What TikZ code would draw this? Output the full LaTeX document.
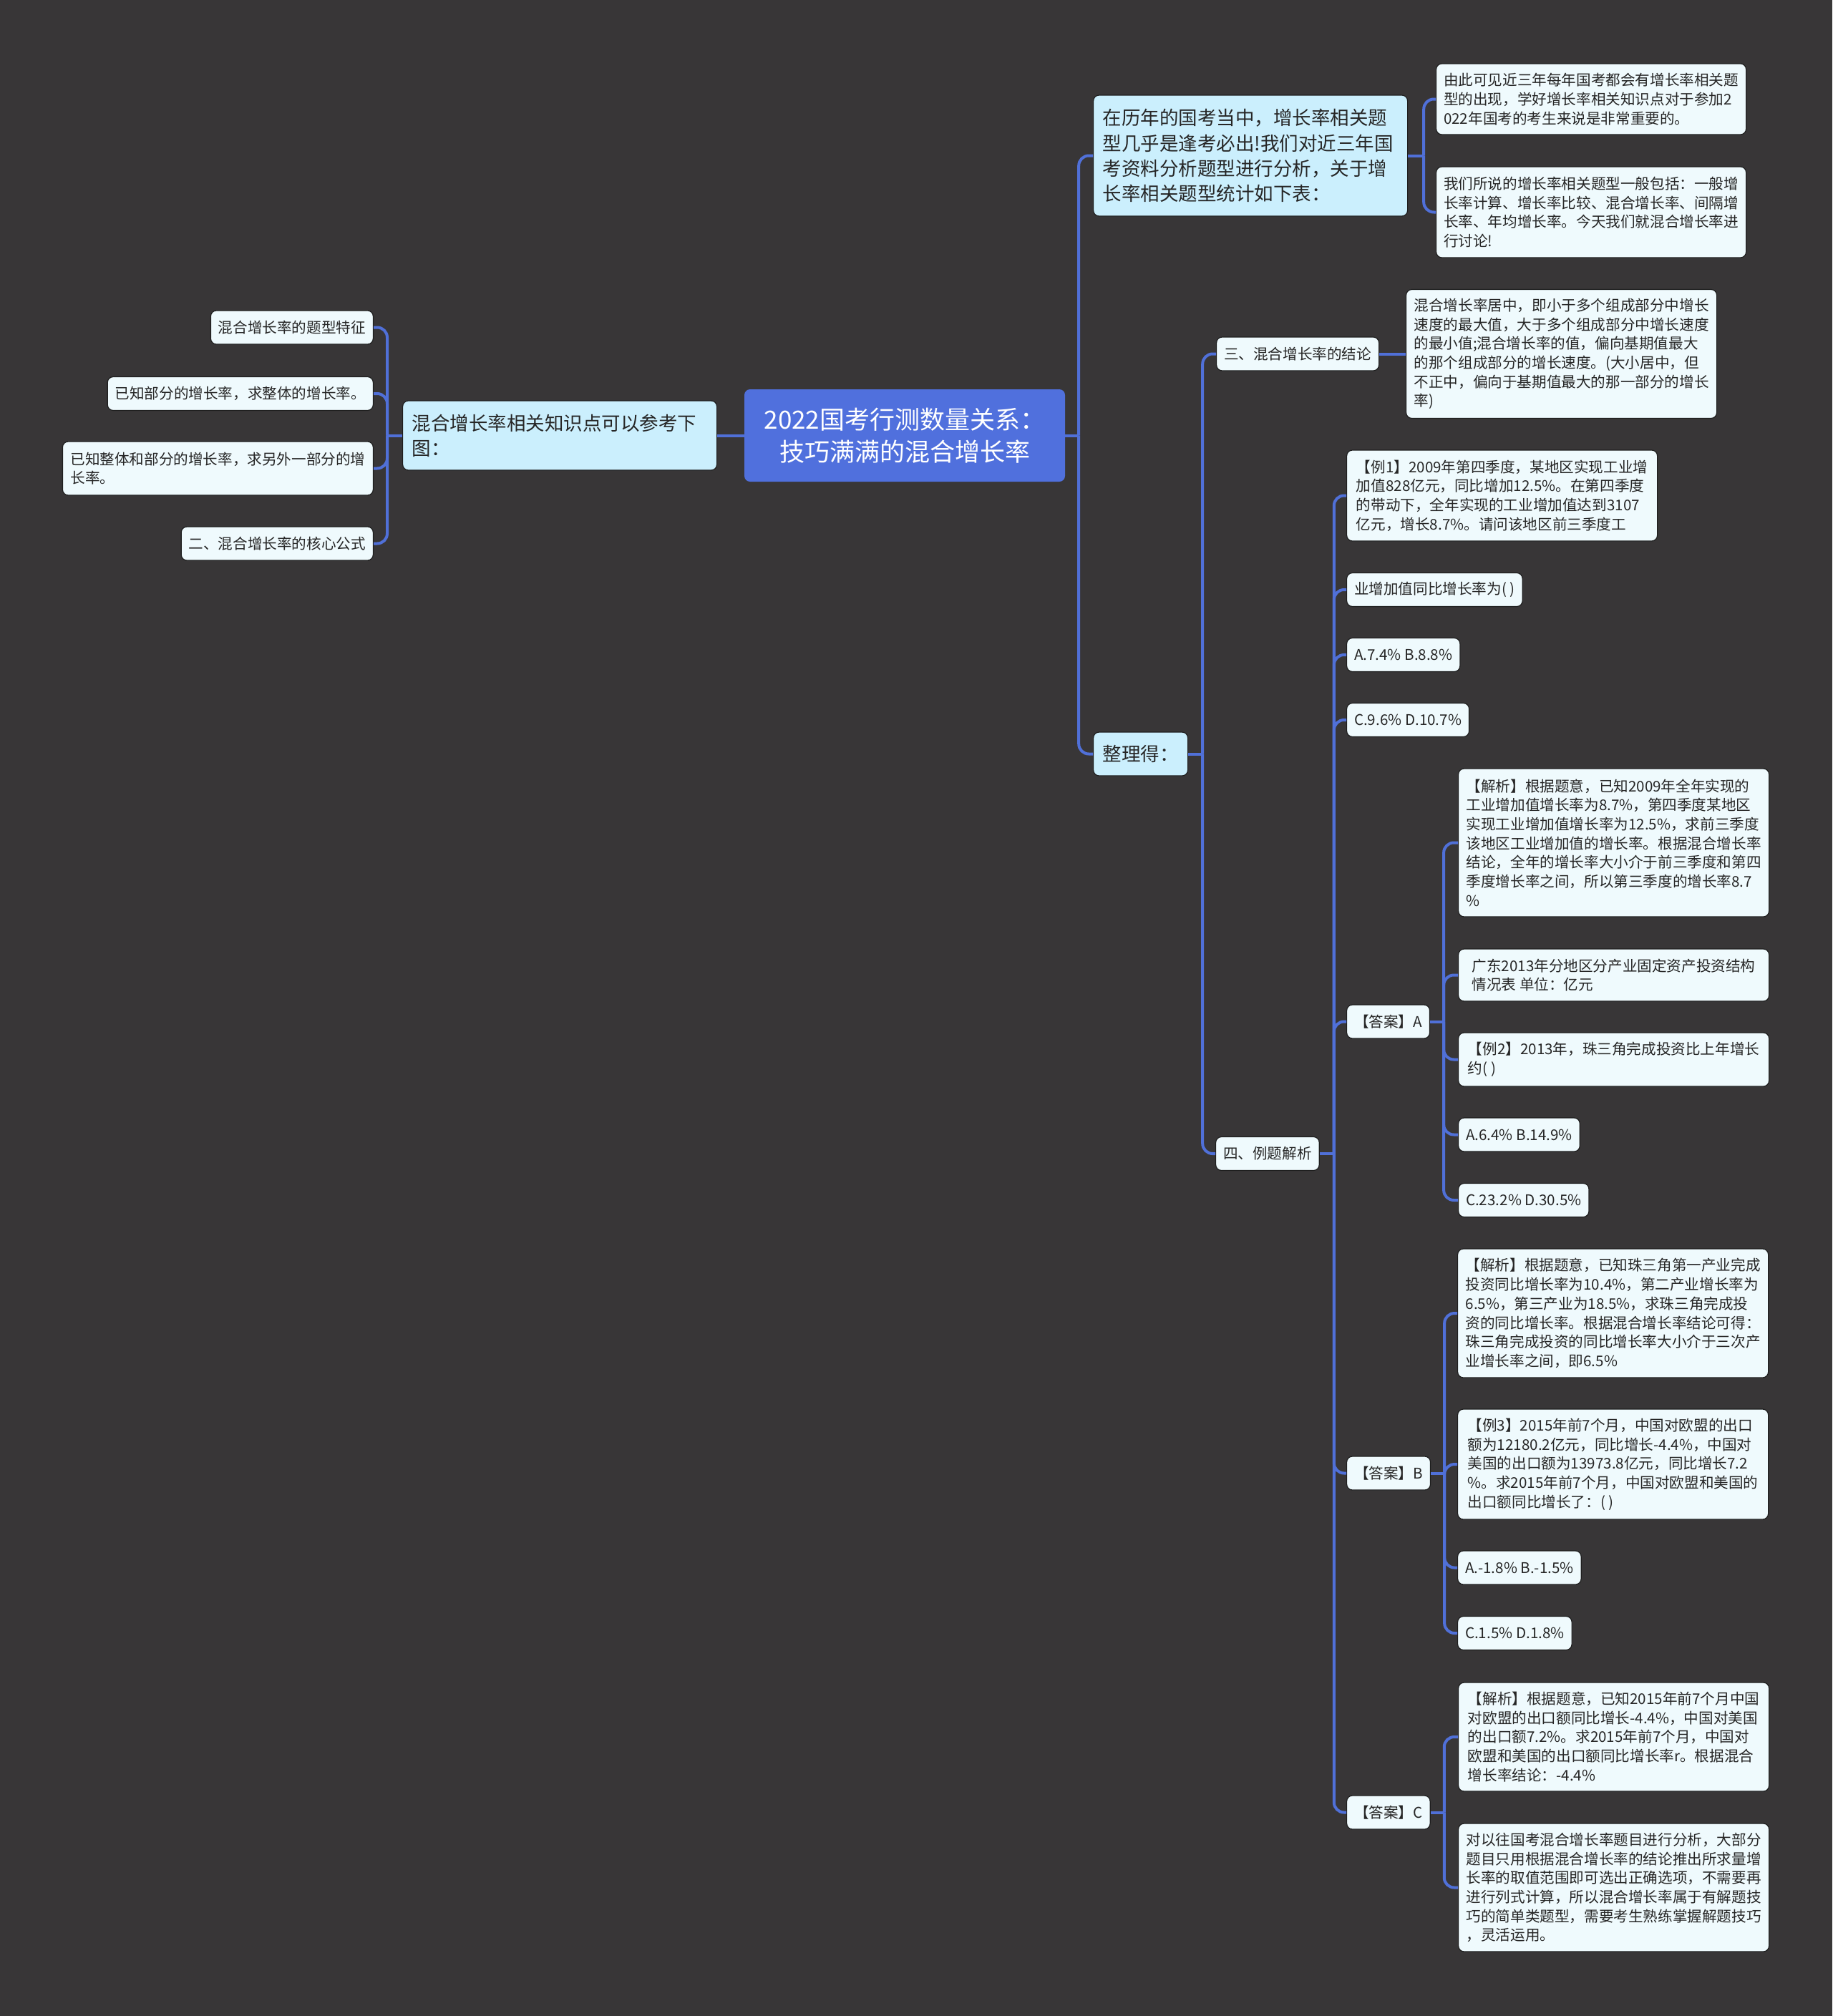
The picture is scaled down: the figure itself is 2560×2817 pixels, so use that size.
\documentclass[tikz,border=0pt]{standalone}
\usepackage{fontspec}
\setmainfont{Noto Sans CJK SC}
\definecolor{bgc}{HTML}{383637}
\definecolor{connc}{HTML}{5070D8}
\definecolor{rootc}{HTML}{5070DD}
\definecolor{lonec}{HTML}{CBEFFD}
\definecolor{leafc}{HTML}{EFFAFD}
\definecolor{bordc}{HTML}{1E1E1E}
\definecolor{txtc}{HTML}{262626}
\newcommand\leaffnt{\fontsize{20.6pt}{26.7pt}\selectfont}
\newcommand\onefnt{\fontsize{26.5pt}{35.3pt}\selectfont}
\newcommand\rootfnt{\fontsize{35pt}{45pt}\selectfont}
\tikzset{
  boxbase/.style={draw=bordc, line width=1.2pt, rounded corners=8pt, text=txtc, align=left, inner ysep=3pt},
  leaf/.style={boxbase, fill=leafc, font=\leaffnt, inner xsep=10.5pt, minimum height=47pt},
  lone/.style={boxbase, fill=lonec, font=\onefnt, inner xsep=13pt},
  rootn/.style={fill=rootc, rounded corners=8pt, text=white, font=\rootfnt, align=center, minimum width=448pt, minimum height=129pt},
  conn/.style={draw=connc, line width=4pt, rounded corners=14pt},
}
\begin{document}
\begin{tikzpicture}[x=1pt,y=-1pt]
\fill[bgc] (0,0) rectangle (2560,2817);
\useasboundingbox (0,0) rectangle (2560,2817);

% root
\node[rootn] (root) at (1264,608.5) {2022国考行测数量关系：\\技巧满满的混合增长率};

% left branch
\node[lone, anchor=west, text width=413pt, minimum height=97pt] (L) at (562,608.5) {混合增长率相关知识点可以参考下\\图：};
\node[leaf, anchor=east] (l1) at (522,457.5) {混合增长率的题型特征};
\node[leaf, anchor=east] (l2) at (522,550) {已知部分的增长率，求整体的增长率。};
\node[leaf, anchor=east, minimum width=434pt, minimum height=75pt] (l3) at (522,654.5) {已知整体和部分的增长率，求另外一部分的增\\长率。};
\node[leaf, anchor=east] (l4) at (522,759.5) {二、混合增长率的核心公式};

% right level 1
\node[lone, anchor=west, text width=413pt, minimum height=169pt] (A) at (1527,217.5) {在历年的国考当中，增长率相关题\\型几乎是逢考必出!我们对近三年国\\考资料分析题型进行分析，关于增\\长率相关题型统计如下表：};
\node[leaf, anchor=west, minimum width=431pt, minimum height=99pt] (A1) at (2006,138.5) {由此可见近三年每年国考都会有增长率相关题\\型的出现，学好增长率相关知识点对于参加2\\022年国考的考生来说是非常重要的。};
\node[leaf, anchor=west, minimum width=431pt, minimum height=127pt] (A2) at (2006,296.5) {我们所说的增长率相关题型一般包括：一般增\\长率计算、增长率比较、混合增长率、间隔增\\长率、年均增长率。今天我们就混合增长率进\\行讨论!};

\node[lone, anchor=west, minimum height=61pt] (B) at (1527,1053.5) {整理得：};

\node[leaf, anchor=west] (B1) at (1699,494.5) {三、混合增长率的结论};
\node[leaf, anchor=west, minimum width=434pt, minimum height=180pt] (B1a) at (1964,494.5) {混合增长率居中，即小于多个组成部分中增长\\速度的最大值，大于多个组成部分中增长速度\\的最小值;混合增长率的值，偏向基期值最大\\的那个组成部分的增长速度。(大小居中，但\\不正中，偏向于基期值最大的那一部分的增长\\率)};

\node[leaf, anchor=west] (B2) at (1698,1612) {四、例题解析};

% examples
\node[leaf, anchor=west, minimum width=434pt, minimum height=127pt] (e1) at (1881,692.5) {【例1】2009年第四季度，某地区实现工业增\\加值828亿元，同比增加12.5\%。在第四季度\\的带动下，全年实现的工业增加值达到3107\\亿元，增长8.7\%。请问该地区前三季度工};
\node[leaf, anchor=west] (e2) at (1881,824) {业增加值同比增长率为( )};
\node[leaf, anchor=west] (e3) at (1881,915) {A.7.4\% B.8.8\%};
\node[leaf, anchor=west] (e4) at (1881,1006) {C.9.6\% D.10.7\%};

\node[leaf, anchor=west] (ansA) at (1881,1427.5) {【答案】A};
\node[leaf, anchor=west, minimum width=434pt, minimum height=207pt] (a1) at (2037,1177.5) {【解析】根据题意，已知2009年全年实现的\\工业增加值增长率为8.7\%，第四季度某地区\\实现工业增加值增长率为12.5\%，求前三季度\\该地区工业增加值的增长率。根据混合增长率\\结论，全年的增长率大小介于前三季度和第四\\季度增长率之间，所以第三季度的增长率8.7\\\%};
\node[leaf, anchor=west, minimum width=434pt, minimum height=73pt] (a2) at (2037,1362.5) {广东2013年分地区分产业固定资产投资结构\\情况表 单位：亿元};
\node[leaf, anchor=west, minimum width=434pt, minimum height=75pt] (a3) at (2037,1480.5) {【例2】2013年，珠三角完成投资比上年增长\\约( )};
\node[leaf, anchor=west] (a4) at (2037,1585.5) {A.6.4\% B.14.9\%};
\node[leaf, anchor=west] (a5) at (2037,1677) {C.23.2\% D.30.5\%};

\node[leaf, anchor=west] (ansB) at (1881,2058.5) {【答案】B};
\node[leaf, anchor=west, minimum width=434pt, minimum height=180pt] (b1) at (2036,1835) {【解析】根据题意，已知珠三角第一产业完成\\投资同比增长率为10.4\%，第二产业增长率为\\6.5\%，第三产业为18.5\%，求珠三角完成投\\资的同比增长率。根据混合增长率结论可得：\\珠三角完成投资的同比增长率大小介于三次产\\业增长率之间，即6.5\%};
\node[leaf, anchor=west, minimum width=434pt, minimum height=154pt] (b2) at (2036,2046) {【例3】2015年前7个月，中国对欧盟的出口\\额为12180.2亿元，同比增长-4.4\%，中国对\\美国的出口额为13973.8亿元，同比增长7.2\\\%。求2015年前7个月，中国对欧盟和美国的\\出口额同比增长了：( )};
\node[leaf, anchor=west] (b3) at (2036,2190.5) {A.-1.8\% B.-1.5\%};
\node[leaf, anchor=west] (b4) at (2036,2282) {C.1.5\% D.1.8\%};

\node[leaf, anchor=west] (ansC) at (1881,2532.5) {【答案】C};
\node[leaf, anchor=west, minimum width=434pt, minimum height=152pt] (c1) at (2037,2427) {【解析】根据题意，已知2015年前7个月中国\\对欧盟的出口额同比增长-4.4\%，中国对美国\\的出口额7.2\%。求2015年前7个月，中国对\\欧盟和美国的出口额同比增长率r。根据混合\\增长率结论：-4.4\%};
\node[leaf, anchor=west, minimum width=434pt, minimum height=179pt] (c2) at (2037,2637.5) {对以往国考混合增长率题目进行分析，大部分\\题目只用根据混合增长率的结论推出所求量增\\长率的取值范围即可选出正确选项，不需要再\\进行列式计算，所以混合增长率属于有解题技\\巧的简单类题型，需要考生熟练掌握解题技巧\\，灵活运用。};

% connectors
\draw[conn] (root.west) -- (L.east);
\draw[conn] (L.west) -- ++(-21,0);
\foreach \c in {l1,l2,l3,l4} \draw[conn] ([xshift=-21pt]L.west) |- (\c.east);

\draw[conn] (root.east) -- ++(19,0);
\foreach \c in {A,B} \draw[conn] ([xshift=19pt]root.east) |- (\c.west);

\draw[conn] (A.east) -- ++(22,0);
\foreach \c in {A1,A2} \draw[conn] ([xshift=22pt]A.east) |- (\c.west);

\draw[conn] (B.east) -- ++(20,0);
\foreach \c in {B1,B2} \draw[conn] ([xshift=20pt]B.east) |- (\c.west);

\draw[conn] (B1.east) -- (B1a.west);

\draw[conn] (B2.east) -- ++(20,0);
\foreach \c in {e1,e2,e3,e4,ansA,ansB,ansC} \draw[conn] ([xshift=20pt]B2.east) |- (\c.west);

\draw[conn] (ansA.east) -- ++(19,0);
\foreach \c in {a1,a2,a3,a4,a5} \draw[conn] ([xshift=19pt]ansA.east) |- (\c.west);

\draw[conn] (ansB.east) -- ++(19,0);
\foreach \c in {b1,b2,b3,b4} \draw[conn] ([xshift=19pt]ansB.east) |- (\c.west);

\draw[conn] (ansC.east) -- ++(19,0);
\foreach \c in {c1,c2} \draw[conn] ([xshift=19pt]ansC.east) |- (\c.west);
\end{tikzpicture}
\end{document}
